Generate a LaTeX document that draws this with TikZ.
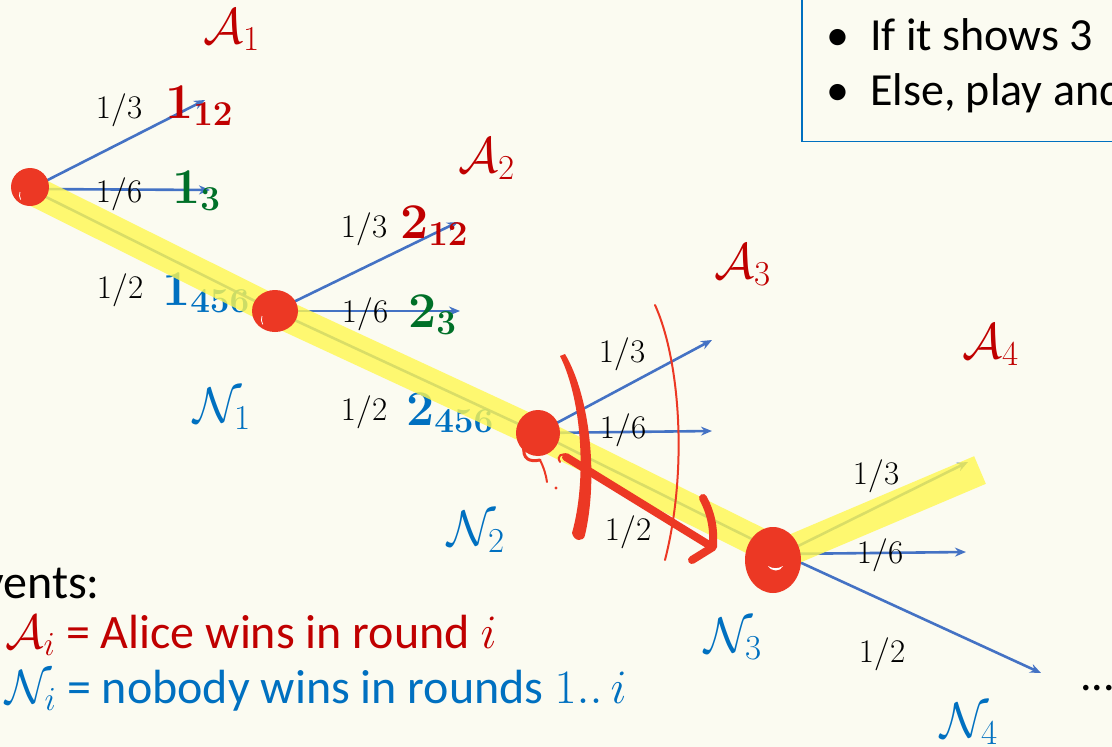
\RequirePackage{fix-cm}
\documentclass[tikz,border=0pt]{standalone}
\usepackage[no-math]{fontspec}
\setmainfont{Carlito}
\usepackage{xcolor}
\usetikzlibrary{arrows.meta, positioning, shapes.geometric}

\definecolor{slidebg}{RGB}{251,251,241}
\definecolor{inkred}{RGB}{236,56,36}
\definecolor{winred}{RGB}{192,0,0}
\definecolor{nobodyblue}{RGB}{0,112,192}
\definecolor{threegreen}{RGB}{0,112,40}
\definecolor{branchblue}{RGB}{68,114,196}
\definecolor{marker}{RGB}{255,248,80}

\begin{document}
\begin{tikzpicture}[
    x=1pt, y=-1pt,
    % --- tree styles ---
    branch/.style={-{Stealth[length=11pt, width=9pt]}, draw=branchblue, line width=2.6pt},
    prob/.style={font=\fontsize{33}{36}\selectfont, inner sep=0pt, anchor=base},
    outcome/.style={font=\fontsize{50}{54}\selectfont, text=#1, inner sep=0pt, anchor=base west},
    eventlbl/.style={font=\fontsize{50}{54}\selectfont, text=#1, inner sep=0pt, anchor=base west},
    dot/.style={ellipse, fill=inkred, inner sep=0pt},
    % --- annotation styles ---
    highlight/.style={draw=marker, line width=30pt, opacity=0.8, line join=round, line cap=butt},
    ink/.style={draw=inkred, line cap=round, line join=round},
    legend/.style 2 args={font=\fontsize{#2}{52}\selectfont, text=#1, inner sep=0pt, anchor=base west},
]

% ---- Canvas ----
\clip (0,0) rectangle (1112,747);
\fill[slidebg] (0,0) rectangle (1112,747);

% ---- Rules box (top right, cut off) ----
\node[draw=nobodyblue, line width=1.5pt, minimum width=340pt, minimum height=170pt,
      anchor=south west, inner sep=0pt] (rules) at (801,142) {};
\foreach \yy/\txt in {50/{If it shows 3}, 105/{Else, play and}}{
    \node[legend={black}{46}] at (826,\yy) {\textbullet};
    \node[legend={black}{46}] at (870,\yy) {\txt};
}

% ---- Tree points ----
\coordinate (n0) at (30,189);
\coordinate (n1) at (275,311);
\coordinate (n2) at (538,433);
\coordinate (n3) at (782,554);
\coordinate (t0) at (205,100);  \coordinate (m0) at (210,190);
\coordinate (t1) at (458,222);  \coordinate (m1) at (460,311);
\coordinate (t2) at (712,340);  \coordinate (m2) at (712,431);
\coordinate (t3) at (968,462);  \coordinate (m3) at (966,552);
\coordinate (b3) at (1041,673);

% ---- Branches ----
\draw[branch] (n0) -- (t0);
\draw[branch] (n0) -- (m0);
\draw[branch] (n0) -- (n1);
\draw[branch] (n1) -- (t1);
\draw[branch] (n1) -- (m1);
\draw[branch] (n1) -- (n2);
\draw[branch] (n2) -- (t2);
\draw[branch] (n2) -- (m2);
\draw[branch] (n2) -- (n3);
\draw[branch] (n3) -- (t3);
\draw[branch] (n3) -- (m3);
\draw[branch] (n3) -- (b3);

% ---- Probabilities ----
\foreach \xx/\yy/\pr in {119/118/3, 119/202/6, 120/298/2,
                         364/237/3, 365/322/6, 364/420/2,
                         622/362/3, 623/438/6, 628/540/2,
                         876/484/3, 880/563/6, 882/662/2}{
    \node[prob] at (\xx,\yy) {$1/\pr$};
}

% ---- Outcomes of each roll ----
\node[outcome=winred]     (o112) at (165,118) {$\mathbf{1}_{\mathbf{12}}$};
\node[outcome=threegreen] (o13)  at (172,203) {$\mathbf{1}_{\mathbf{3}}$};
\node[outcome=nobodyblue] (o1r)  at (162,305) {$\mathbf{1}_{\mathbf{456}}$};
\node[outcome=winred]     (o212) at (400,238) {$\mathbf{2}_{\mathbf{12}}$};
\node[outcome=threegreen] (o23)  at (408,327) {$\mathbf{2}_{\mathbf{3}}$};
\node[outcome=nobodyblue] (o2r)  at (406,425) {$\mathbf{2}_{\mathbf{456}}$};

% ---- Highlighted path ----
\draw[highlight] (n0) -- (n1) -- (n2) -- (n3) -- (980,470);

% ---- Nodes ----
\node[dot, minimum width=38pt, minimum height=38pt] (d0) at (30,187) {};
\node[dot, minimum width=46pt, minimum height=42pt] (d1) at (275,311) {};
\node[dot, minimum width=44pt, minimum height=46pt] (d2) at (538,433) {};
\node[dot, minimum width=56pt, minimum height=66pt] (d3) at (773,560) {};
\draw[white, line width=0.8pt] (20,192) arc[start angle=200, end angle=150, radius=9];
\draw[white, line width=0.8pt] (262,316) arc[start angle=200, end angle=150, radius=10];
\fill[white] (768,566) .. controls (772,572) and (780,572) .. (783,566)
             .. controls (778,569) and (773,569) .. cycle;

% ---- Hand-drawn marks ----
\draw[ink, line width=3pt] (524,445) .. controls (522,460) and (530,462) .. (540,460);
\draw[ink, line width=2pt] (540,460) .. controls (544,468) and (546,475) .. (547,482);
\fill[inkred] (556,488) circle[radius=1.6];
\draw[ink, line width=2pt] (560,462) .. controls (556,456) and (562,452) .. (568,456);
\fill[inkred] (560,356) .. controls (582,400) and (587,480) .. (572,533)
              .. controls (574,542) and (584,542) .. (585,535)
              .. controls (598,480) and (591,398) .. (565,354) -- cycle;
\draw[ink, line width=2pt] (655,305) .. controls (680,360) and (688,470) .. (665,560);
\draw[ink, line width=8pt] (566,457) -- (709,545);
\draw[ink, line width=8pt] (703,498) .. controls (712,515) and (714,530) .. (713,547) -- (692,560);

% ---- Event labels ----
\node[eventlbl=winred]     (a1) at (203,43)  {$\mathcal{A}_1$};
\node[eventlbl=winred]     (a2) at (458,172) {$\mathcal{A}_2$};
\node[eventlbl=winred]     (a3) at (714,278) {$\mathcal{A}_3$};
\node[eventlbl=winred]     (a4) at (962,358) {$\mathcal{A}_4$};
\node[eventlbl=nobodyblue] (e1) at (193,422) {$\mathcal{N}_1$};
\node[eventlbl=nobodyblue] (e2) at (447,545) {$\mathcal{N}_2$};
\node[eventlbl=nobodyblue] (e3) at (704,652) {$\mathcal{N}_3$};
\node[eventlbl=nobodyblue] (e4) at (940,737) {$\mathcal{N}_4$};
\node[legend={black}{46}] (more) at (1080,690) {...};

% ---- Legend ----
\node[legend={black}{48}, anchor=base east] (evt) at (100,598) {Events:};
\node[legend={winred}{48}] (lega) at (5,648) {$\mathcal{A}_i$ = Alice wins in round $i$};
\node[legend={nobodyblue}{48}] (legn) at (5,703) {$\mathcal{N}_i$ = nobody wins in rounds $1..\,i$};

\end{tikzpicture}
\end{document}
